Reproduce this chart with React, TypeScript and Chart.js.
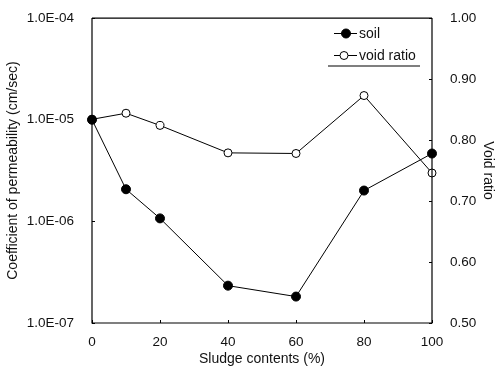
import React, { useEffect, useRef } from "react";
import { Chart, registerables } from "chart.js";

Chart.register(...registerables);

const sludge = [0, 10, 20, 40, 60, 80, 100];
const soilPermeability = [1.0e-5, 2.07e-6, 1.07e-6, 2.33e-7, 1.82e-7, 2.01e-6, 4.65e-6];
const voidRatio = [0.834, 0.844, 0.824, 0.779, 0.778, 0.873, 0.746];
const leftTicks = [1e-7, 1e-6, 1e-5, 1e-4];

const FONT = "'Liberation Sans', Arial, sans-serif";
const TXT = "#111";
const TICK_SIZE = 13.5;
const TITLE_SIZE = 14;

function fmtExp(v: number): string {
  const s = v.toExponential(1);
  const [m, e] = s.split("e");
  const n = parseInt(e, 10);
  const sign = n < 0 ? "-" : "+";
  const abs = Math.abs(n).toString().padStart(2, "0");
  return `${m}E${sign}${abs}`;
}

const framePlugin = {
  id: "frameAndExtras",
  afterDraw(chart: any) {
    const ctx = chart.ctx;
    const { left, right, top, bottom } = chart.chartArea;
    ctx.save();
    ctx.strokeStyle = "#000";
    ctx.lineWidth = 1.2;
    ctx.beginPath();
    ctx.moveTo(left, top);
    ctx.lineTo(right, top);
    ctx.moveTo(left, top);
    ctx.lineTo(left, bottom);
    ctx.lineTo(right, bottom);
    ctx.lineTo(right, top);
    ctx.stroke();

    ctx.lineWidth = 1;
    const xs = chart.scales.x;
    const yl = chart.scales.y;
    const yr = chart.scales.y1;
    ctx.beginPath();
    xs.ticks.forEach((t: any) => {
      const px = Math.round(xs.getPixelForValue(t.value)) + 0.5;
      ctx.moveTo(px, bottom);
      ctx.lineTo(px, bottom - 3);
    });
    yl.ticks.forEach((t: any) => {
      const py = Math.round(yl.getPixelForValue(t.value)) + 0.5;
      ctx.moveTo(left, py);
      ctx.lineTo(left + 3, py);
    });
    yr.ticks.forEach((t: any) => {
      const py = Math.round(yr.getPixelForValue(t.value)) + 0.5;
      ctx.moveTo(right, py);
      ctx.lineTo(right - 3, py);
    });
    ctx.stroke();

    // axis titles
    ctx.fillStyle = TXT;
    ctx.font = `${TITLE_SIZE}px ${FONT}`;
    ctx.textAlign = "center";
    ctx.textBaseline = "middle";
    ctx.fillText("Sludge contents (%)", (left + right) / 2, 359);
    ctx.save();
    ctx.translate(13, (top + bottom) / 2);
    ctx.rotate(-Math.PI / 2);
    ctx.fillText("Coefficient of permeability (cm/sec)", 0, 0);
    ctx.restore();
    ctx.save();
    ctx.translate(488, (top + bottom) / 2);
    ctx.rotate(Math.PI / 2);
    ctx.fillText("Void ratio", 0, 0);
    ctx.restore();

    // legend
    const lx0 = 334, lx1 = 357;
    const rows = [
      { y: 33, label: "soil", filled: true, mx: 346 },
      { y: 55, label: "void ratio", filled: false, mx: 344 },
    ];
    rows.forEach((r) => {
      ctx.beginPath();
      ctx.strokeStyle = "#000";
      ctx.lineWidth = 1;
      ctx.moveTo(lx0, r.y + 0.5);
      ctx.lineTo(lx1, r.y + 0.5);
      ctx.stroke();
      ctx.beginPath();
      ctx.arc(r.mx, r.y + 0.5, r.filled ? 4.5 : 4, 0, Math.PI * 2);
      ctx.fillStyle = r.filled ? "#000" : "#fff";
      ctx.fill();
      ctx.stroke();
      ctx.fillStyle = TXT;
      ctx.textAlign = "left";
      ctx.textBaseline = "middle";
      ctx.font = `${TITLE_SIZE}px ${FONT}`;
      ctx.fillText(r.label, 359, r.y + 1);
    });
    ctx.beginPath();
    ctx.lineWidth = 1.2;
    ctx.moveTo(328, 66);
    ctx.lineTo(420, 66);
    ctx.stroke();
    ctx.restore();
  },
};

export default function App() {
  const ref = useRef<HTMLCanvasElement | null>(null);
  useEffect(() => {
    if (!ref.current) return;
    const chart = new Chart(ref.current, {
      type: "line",
      data: {
        datasets: [
          {
            label: "soil",
            data: sludge.map((x, i) => ({ x, y: soilPermeability[i] })),
            yAxisID: "y",
            borderColor: "#000",
            borderWidth: 1,
            backgroundColor: "#000",
            pointBackgroundColor: "#000",
            pointBorderColor: "#000",
            pointRadius: 4.5,
            pointBorderWidth: 1,
            tension: 0,
            clip: false as any,
          },
          {
            label: "void ratio",
            data: sludge.map((x, i) => ({ x, y: voidRatio[i] })),
            yAxisID: "y1",
            borderColor: "#000",
            borderWidth: 1,
            backgroundColor: "#fff",
            pointBackgroundColor: "#fff",
            pointBorderColor: "#000",
            pointRadius: 4,
            pointBorderWidth: 1,
            tension: 0,
            clip: false as any,
          },
        ],
      },
      options: {
        animation: false,
        responsive: false,
        maintainAspectRatio: false,
        layout: { padding: { top: 13, left: 0, right: 0, bottom: 0 } },
        plugins: { legend: { display: false }, tooltip: { enabled: false } },
        scales: {
          x: {
            type: "linear",
            min: 0,
            max: 100,
            grid: { display: false },
            border: { display: false },
            ticks: {
              stepSize: 20,
              padding: 3,
              color: TXT,
              font: { family: FONT, size: TICK_SIZE },
              maxRotation: 0,
            },
            afterFit: (s: any) => {
              s.height = 46;
            },
          },
          y: {
            type: "logarithmic",
            position: "left",
            min: 1e-7,
            max: 1e-4,
            grid: { display: false },
            border: { display: false },
            afterBuildTicks: (s: any) => {
              s.ticks = leftTicks.map((v) => ({ value: v }));
            },
            ticks: {
              padding: 10,
              color: TXT,
              font: { family: FONT, size: TICK_SIZE },
              callback: (v: any) => fmtExp(Number(v)),
            },
            afterFit: (s: any) => {
              s.width = 92;
            },
          },
          y1: {
            type: "linear",
            position: "right",
            min: 0.5,
            max: 1.0,
            grid: { display: false },
            border: { display: false },
            ticks: {
              stepSize: 0.1,
              padding: 10,
              color: TXT,
              font: { family: FONT, size: TICK_SIZE },
              callback: (v: any) => Number(v).toFixed(2),
            },
            afterFit: (s: any) => {
              s.width = 68;
            },
          },
        },
      },
      plugins: [framePlugin],
    });
    return () => chart.destroy();
  }, []);
  return (
    <div style={{ position: "fixed", left: 0, top: 0, width: 500, height: 369, background: "#fff" }}>
      <canvas ref={ref} width={500} height={369} style={{ width: 500, height: 369 }} />
    </div>
  );
}
